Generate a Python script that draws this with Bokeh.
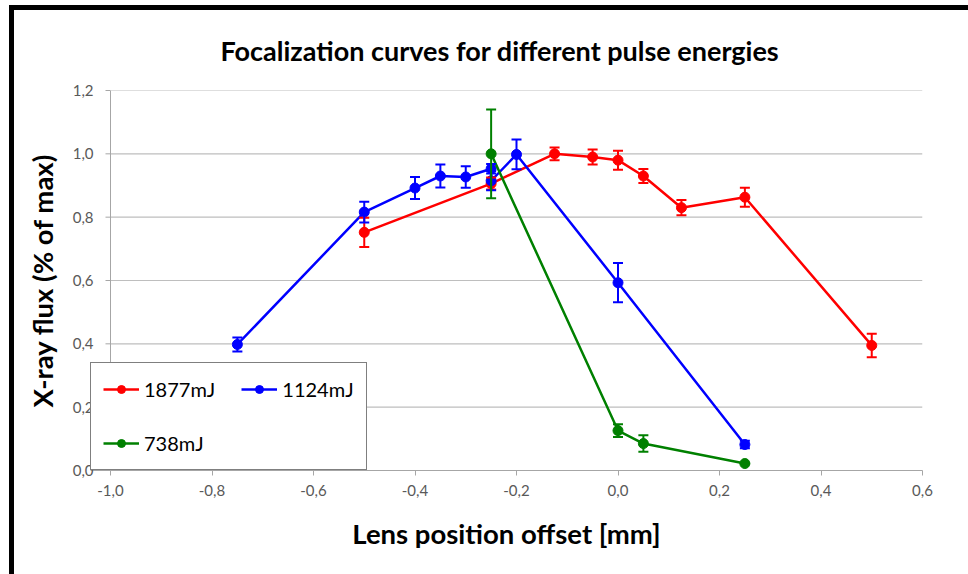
from bokeh.plotting import figure
from bokeh.models import (ColumnDataSource, Whisker, TeeHead, FixedTicker, CustomJSTickFormatter,
                          Legend, LegendItem, Range1d, Span)
from bokeh.embed import file_html
from bokeh.resources import INLINE

# ---- data ----
title_text = "Focalization curves for different pulse energies"
x_label = "Lens position offset [mm]"
y_label = "X-ray flux (% of max)"

x_ticks = [-1.0, -0.8, -0.6, -0.4, -0.2, 0.0, 0.2, 0.4, 0.6]
y_ticks = [0.0, 0.2, 0.4, 0.6, 0.8, 1.0, 1.2]

names = ["1877mJ", "1124mJ", "738mJ"]
colors = ["#FF0000", "#0000FF", "#008000"]

red_x = [-0.5, -0.25, -0.125, -0.05, 0.0, 0.05, 0.125, 0.25, 0.5]
red_y = [0.752, 0.906, 1.0, 0.99, 0.98, 0.93, 0.83, 0.863, 0.395]
red_e = [0.046, 0.019, 0.02, 0.024, 0.03, 0.022, 0.024, 0.03, 0.037]

blue_x = [-0.75, -0.5, -0.4, -0.35, -0.3, -0.25, -0.25, -0.2, 0.0, 0.25]
blue_y = [0.398, 0.816, 0.892, 0.93, 0.927, 0.953, 0.915, 0.998, 0.593, 0.082]
blue_e = [0.022, 0.033, 0.035, 0.036, 0.034, 0.015, 0.03, 0.047, 0.062, 0.012]

green_x = [-0.25, 0.0, 0.05, 0.25]
green_y = [1.0, 0.126, 0.085, 0.022]
green_e = [0.14, 0.02, 0.026, 0.0]

series = [(red_x, red_y, red_e), (blue_x, blue_y, blue_e), (green_x, green_y, green_e)]

FONT = "Lato"
GRID = "#BEBEBE"
AXIS = "#A6A6A6"

# layout: frame from x=90 to 922 px; the value axis sits 20 px inside, at x_ticks[0]
W, H = 968, 574
FL, FR, FT, FB = 90, 922, 90, 470
AX_GAP = 20
ppu = (FR - FL - AX_GAP) / (x_ticks[-1] - x_ticks[0])
x_start = x_ticks[0] - AX_GAP / ppu

p = figure(width=W, height=H, output_backend="svg", toolbar_location=None,
           x_range=Range1d(x_start, x_ticks[-1]), y_range=Range1d(y_ticks[0], y_ticks[-1]),
           min_border_left=FL, min_border_right=W - FR, min_border_top=FT, min_border_bottom=H - FB)

p.background_fill_color = "white"
p.border_fill_alpha = 0
p.outline_line_color = None
# black chart frame along the top and left edges
p.styles = {"background-color": "white",
            "box-shadow": "inset 9px 5px 0 0 white, inset 14px 10px 0 0 black"}

# title
p.title.text = title_text
p.title.align = "left"
p.title.offset = 130
p.title.text_font = FONT
p.title.text_font_size = "27px"
p.title.text_font_style = "bold"
p.title.text_color = "#000000"
p.title.standoff = 48

# grid: horizontal lines from the value axis to the right edge
p.xgrid.grid_line_color = None
p.ygrid.grid_line_color = None
n = len(y_ticks)
p.segment(x0=[x_ticks[0]] * n, x1=[x_ticks[-1]] * n, y0=y_ticks, y1=y_ticks,
          line_color=GRID, line_width=1.2, level="underlay")

# axes
fmt = CustomJSTickFormatter(code="return tick.toFixed(1).replace('.', ',');")
p.xaxis.ticker = FixedTicker(ticks=x_ticks)
p.yaxis.ticker = FixedTicker(ticks=y_ticks)
p.xaxis.formatter = fmt
p.yaxis.formatter = fmt
for ax in (p.xaxis, p.yaxis):
    ax.axis_line_color = AXIS
    ax.major_tick_line_color = AXIS
    ax.minor_tick_line_color = None
    ax.major_tick_out = 5
    ax.major_tick_in = 0
    ax.major_label_text_font = FONT
    ax.major_label_text_font_size = "15px"
    ax.major_label_text_color = "#595959"
    ax.axis_label_text_font = FONT
    ax.axis_label_text_font_size = "27.5px"
    ax.axis_label_text_font_style = "bold"
    ax.axis_label_text_color = "#000000"
p.xaxis.axis_label = x_label
p.yaxis.axis_label = y_label
p.xaxis.major_label_standoff = 9
p.xaxis.axis_label_standoff = 18
# y axis: only labels in the side panel; line and ticks drawn at x_ticks[0]
p.yaxis.axis_line_color = None
p.yaxis.major_tick_line_color = None
p.yaxis.major_tick_out = 0
p.yaxis.major_label_standoff = -3
p.yaxis.axis_label_standoff = 11

p.add_layout(Span(location=x_ticks[0], dimension="height", line_color=AXIS, line_width=1, level="guide"))
p.segment(x0=[x_ticks[0] - 5 / ppu] * n, x1=[x_ticks[0]] * n, y0=y_ticks, y1=y_ticks,
          line_color=AXIS, line_width=1, level="guide")

items = []
for (xs, ys, es), name, col in zip(series, names, colors):
    src = ColumnDataSource(dict(x=xs, y=ys,
                                lo=[y - e for y, e in zip(ys, es)],
                                hi=[y + e for y, e in zip(ys, es)]))
    w = Whisker(source=src, base="x", upper="hi", lower="lo",
                line_color=col, line_width=2, level="glyph",
                upper_head=TeeHead(size=10, line_color=col, line_width=2),
                lower_head=TeeHead(size=10, line_color=col, line_width=2))
    p.add_layout(w)
    r_line = p.line("x", "y", source=src, line_color=col, line_width=2.5)
    r_pt = p.scatter("x", "y", source=src, marker="circle", size=10,
                     fill_color=col, line_color=col)
    items.append(LegendItem(label=name, renderers=[r_line, r_pt]))

legend = Legend(items=items, location=(0, 0), orientation="horizontal", ncols=2,
                label_text_font=FONT, label_text_font_size="20px", label_text_color="#000000",
                glyph_width=36, glyph_height=20, label_height=28, label_standoff=5,
                spacing=26, padding=12, margin=0,
                border_line_color="#000000", border_line_width=1,
                background_fill_color="white", background_fill_alpha=1.0)
p.add_layout(legend, "center")

open("out.html", "w").write(file_html(p, INLINE))
